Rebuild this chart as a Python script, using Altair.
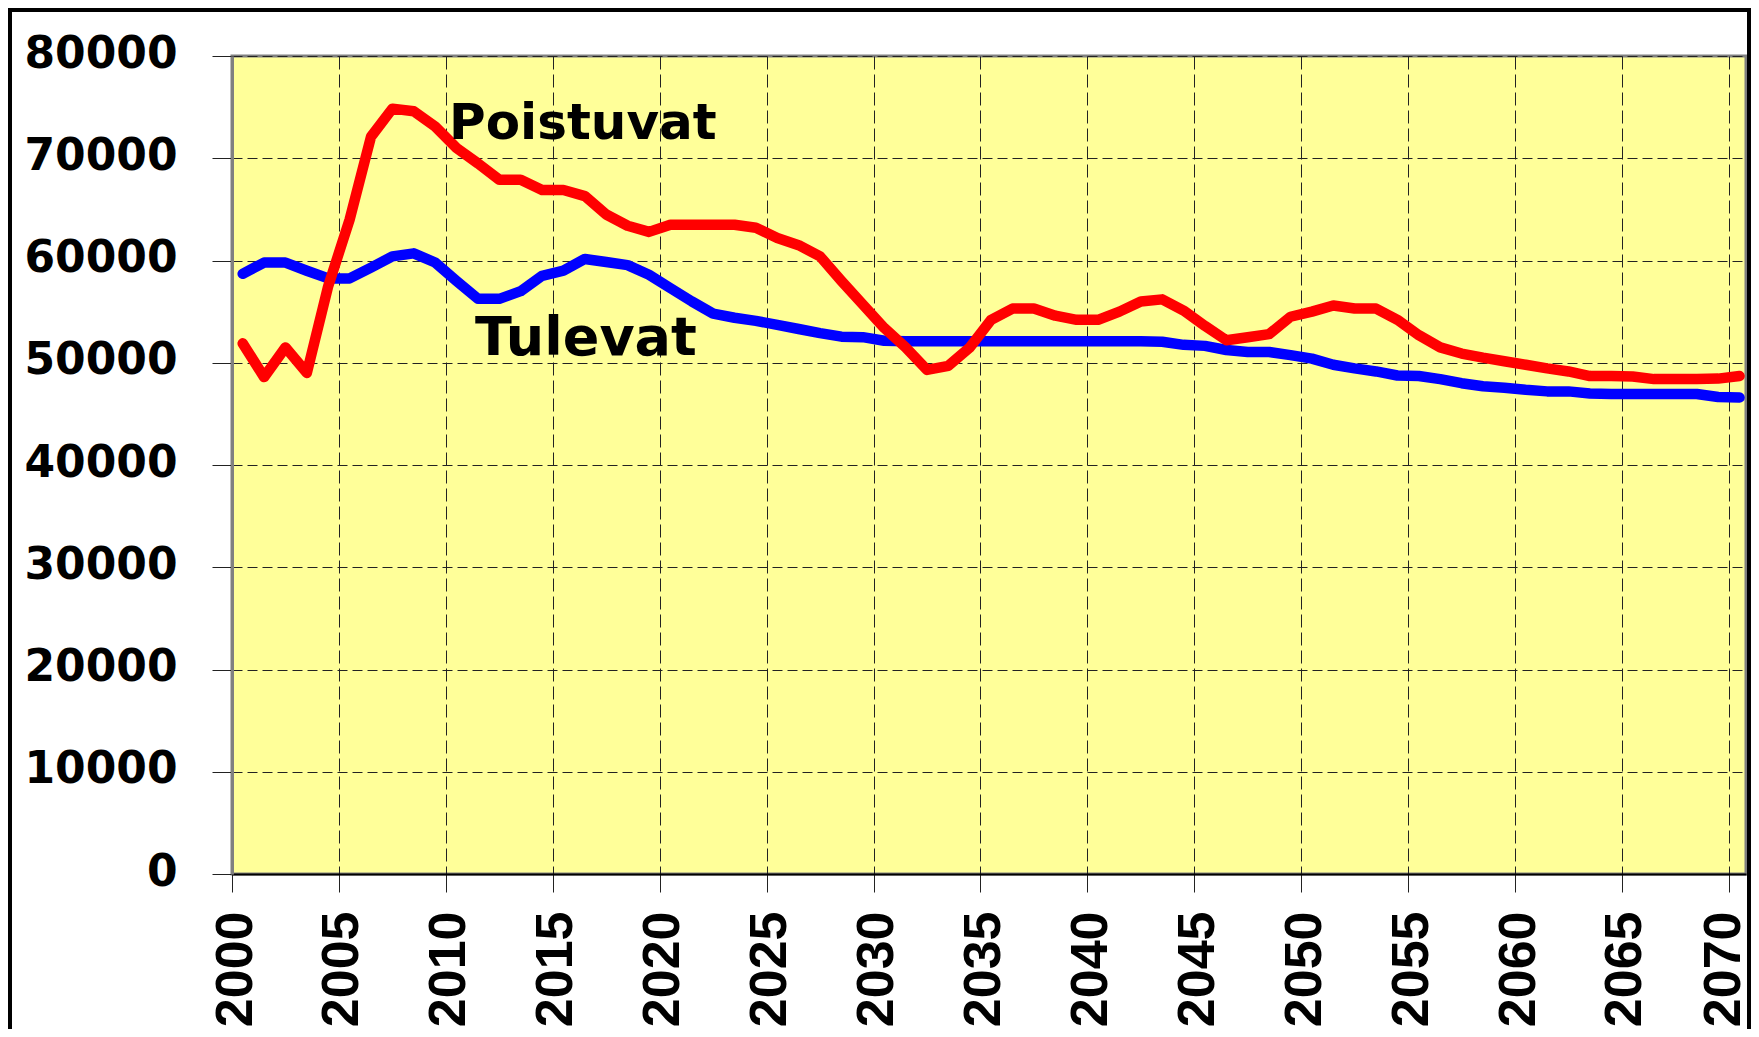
import altair as alt
import pandas as pd

# ---- data ----
years = list(range(2000, 2071))

poistuvat = [
    51900, 48600, 51500, 49000, 57500, 64000, 72100, 74850, 74600, 73100,
    71000, 69500, 67900, 67900, 66900, 66900, 66300, 64500, 63400, 62800,
    63500, 63500, 63500, 63500, 63200, 62200, 61500, 60400, 58000, 55700,
    53400, 51500, 49300, 49700, 51500, 54200, 55300, 55300, 54600, 54200,
    54200, 55000, 56000, 56200, 55100, 53600, 52200, 52500, 52800, 54500,
    55000, 55600, 55300, 55300, 54200, 52700, 51500, 50900, 50500, 50150,
    49800, 49450, 49150, 48700, 48700, 48650, 48400, 48400, 48400, 48450,
    48700,
]

tulevat = [
    58700, 59800, 59800, 59000, 58250, 58250, 59300, 60400, 60700, 59800,
    58000, 56250, 56250, 57000, 58500, 59000, 60150, 59850, 59550, 58600,
    57300, 56000, 54800, 54400, 54100, 53700, 53300, 52900, 52550, 52500,
    52150, 52100, 52100, 52100, 52100, 52100, 52100, 52100, 52100, 52100,
    52100, 52100, 52100, 52050, 51750, 51650, 51250, 51050, 51050, 50750,
    50400, 49800, 49450, 49150, 48750, 48700, 48400, 48000, 47700, 47550,
    47350, 47200, 47200, 47000, 46950, 46950, 46950, 46950, 46950, 46650,
    46600,
]

series_names = ["Tulevat", "Poistuvat"]
line_colors = ["#0000FF", "#FF0000"]

x_ticks = list(range(2000, 2071, 5))
y_ticks = list(range(0, 80001, 10000))

label_texts = ["Poistuvat", "Tulevat"]
label_x = [2010.15, 2011.36]
label_y = [71900, 50760]

# ---- tables ----
def series_df(vals, name):
    # each yearly value sits in the middle of its year slot
    return pd.DataFrame({"x": [y + 0.5 for y in years], "value": vals, "series": name})

df_blue = series_df(tulevat, series_names[0])
df_red = series_df(poistuvat, series_names[1])

x_scale = alt.Scale(domain=[2000, 2070.8], nice=False, zero=False)
y_scale = alt.Scale(domain=[0, 80000], nice=False)

x_axis = alt.Axis(
    values=x_ticks, format="d", title=None,
    labelAngle=270, labelFont="Liberation Sans", labelFontSize=52,
    labelFontWeight="bold", labelColor="black", labelPadding=19,
    labelOffset={"condition": {"test": "datum.value >= 2070", "value": -5}, "value": 3},
    labelFlush=False, labelOverlap=False,
    tickSize=18, tickColor="#222222", tickWidth=1,
    domainColor="#000000", domainWidth=2,
    grid=True, gridColor="#222222", gridDash=[13, 5], gridWidth=1,
)
y_axis = alt.Axis(
    values=y_ticks, format="d", title=None,
    labelFont="DejaVu Sans", labelFontSize=44, labelFontWeight="bold",
    labelColor="black", labelPadding=35, labelOffset=-2, labelOverlap=False,
    tickSize=20, tickColor="#222222", tickWidth=1,
    domainColor="#808080", domainWidth=3,
    grid=True, gridColor="#222222", gridDash=[10, 5], gridWidth=1,
)

X = alt.X("x:Q", scale=x_scale, axis=x_axis)
Y = alt.Y("value:Q", scale=y_scale, axis=y_axis)

def line_layer(df, color):
    return alt.Chart(df).mark_line(
        color=color, strokeWidth=10.5, strokeCap="round", strokeJoin="round"
    ).encode(x=X, y=Y)

blue = line_layer(df_blue, line_colors[0])
red = line_layer(df_red, line_colors[1])

def text_layer(i, size):
    d = pd.DataFrame({"x": [label_x[i]], "value": [label_y[i]], "t": [label_texts[i]]})
    return alt.Chart(d).mark_text(
        font="DejaVu Sans", fontSize=size, fontWeight="bold", color="black",
        align="left", baseline="alphabetic"
    ).encode(x=X, y=Y, text="t:N")

txt_p = text_layer(0, 50)
txt_t = text_layer(1, 54)

# outer chart frame (decoration)
frame = alt.Chart(pd.DataFrame({"k": [0]})).mark_rect(
    fill="transparent", stroke="black", strokeWidth=4
).encode(
    x=alt.value(-222), x2=alt.value(1517), y=alt.value(-46), y2=alt.value(1100)
)

chart = alt.layer(blue, red, txt_p, txt_t, frame).properties(
    width=1514, height=818,
    autosize=alt.AutoSizeParams(type="none"),
    padding={"left": 224, "top": 48, "right": 5, "bottom": 155},
    background="white",
).configure_view(
    fill="#FFFF99", stroke="#808080", strokeWidth=3
)

chart.save("out.html", embed_options={"renderer": "svg", "actions": False})
